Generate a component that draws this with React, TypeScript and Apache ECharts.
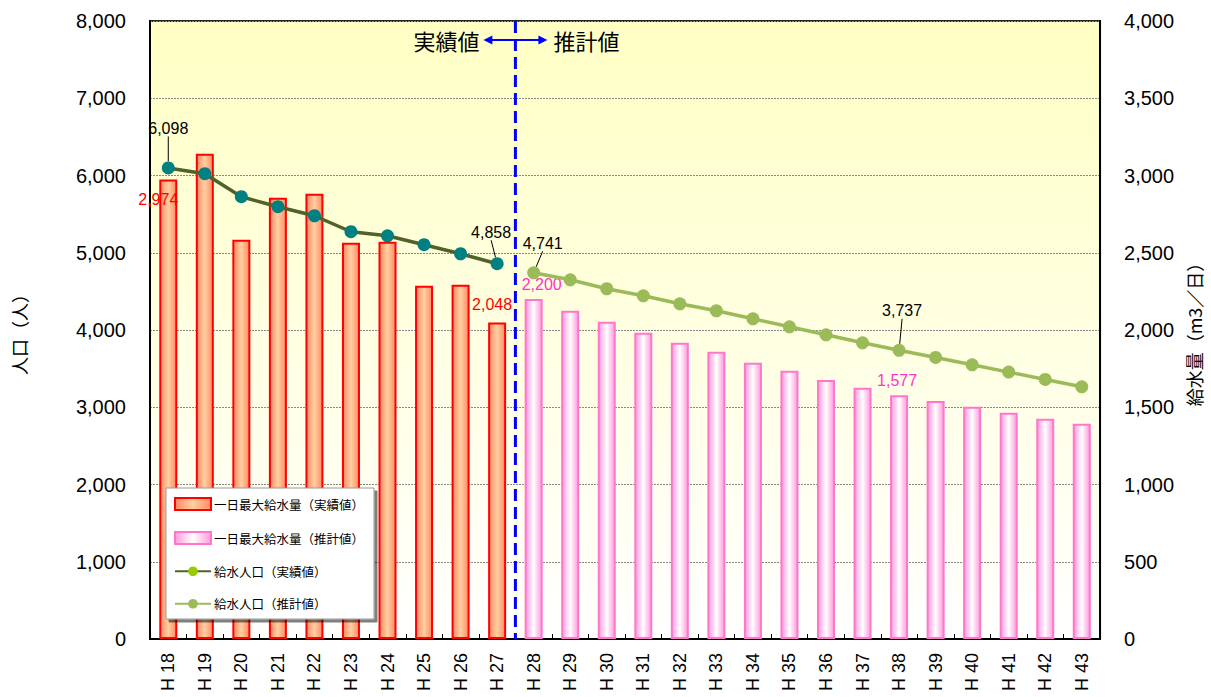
import React, { useEffect, useRef } from "react";
import * as echarts from "echarts";

const categories = ["H 18","H 19","H 20","H 21","H 22","H 23","H 24","H 25","H 26","H 27","H 28","H 29","H 30","H 31","H 32","H 33","H 34","H 35","H 36","H 37","H 38","H 39","H 40","H 41","H 42","H 43"];
// 一日最大給水量 (m3/日)
const supplyActual = [2974, 3140, 2584, 2856, 2882, 2565, 2571, 2286, 2293, 2048];
const supplyProjected = [2200, 2124, 2053, 1982, 1917, 1859, 1788, 1736, 1677, 1626, 1577, 1541, 1503, 1464, 1425, 1393];
// 給水人口 (人)
const popActual = [6098, 6023, 5725, 5596, 5479, 5272, 5220, 5104, 4987, 4858];
const popProjected = [4741, 4650, 4534, 4443, 4339, 4249, 4145, 4041, 3938, 3834, 3737, 3645, 3550, 3455, 3360, 3265];
const leftTicks = { min: 0, max: 8000, interval: 1000 };
const rightTicks = { min: 0, max: 4000, interval: 500 };

const nActual = supplyActual.length;
const FONT = "'Liberation Sans', 'Noto Sans CJK JP', sans-serif";
const JP = "'Noto Sans CJK JP', sans-serif";

export default function App() {
  const ref = useRef<HTMLDivElement>(null);
  useEffect(() => {
    if (!ref.current) return;
    const chart = echarts.init(ref.current, null, { renderer: "svg" });

    const redFill = new echarts.graphic.LinearGradient(0, 0, 1, 0, [
      { offset: 0, color: "#FF8866" },
      { offset: 0.5, color: "#FFD0A0" },
      { offset: 1, color: "#FF8866" },
    ]);
    const pinkFill = new echarts.graphic.LinearGradient(0, 0, 1, 0, [
      { offset: 0, color: "#FF99DD" },
      { offset: 0.5, color: "#FFFFFF" },
      { offset: 1, color: "#FF99DD" },
    ]);

    const barActualData = categories.map((_, i) => {
      if (i >= nActual) return null;
      const v = supplyActual[i];
      if (i === 0) {
        return { value: v, label: { show: true, position: "insideTop", offset: [-10, 7], color: "#FF0000" } };
      }
      if (i === nActual - 1) {
        return { value: v, label: { show: true, position: "top", offset: [-5, -5], color: "#FF0000" } };
      }
      return v;
    });
    const barProjData = categories.map((_, i) => {
      if (i < nActual) return null;
      const j = i - nActual;
      const v = supplyProjected[j];
      if (j === 0 || j === 10) {
        return { value: v, label: { show: true, position: "top", offset: [j === 0 ? 8 : -2, -2], color: "#FF33CC" } };
      }
      return v;
    });
    const lineActualData = categories.map((_, i) => {
      if (i >= nActual) return null;
      const v = popActual[i];
      if (i === 0 || i === nActual - 1) return { value: v, label: { show: true } };
      return v;
    });
    const lineProjData = categories.map((_, i) => {
      if (i < nActual) return null;
      const j = i - nActual;
      const v = popProjected[j];
      if (j === 0 || j === 10) return { value: v, label: { show: true } };
      return v;
    });

    const lineLabel = {
      show: false,
      position: "top",
      color: "#000",
      fontSize: 16,
      fontFamily: FONT,
      formatter: (p: any) => Number(p.value).toLocaleString("en-US"),
    };

    const option: any = {
      animation: false,
      textStyle: { fontFamily: FONT },
      grid: {
        left: 150,
        right: 106,
        top: 21,
        bottom: 58,
        show: true,
        borderColor: "#222",
        borderWidth: 2,
        backgroundColor: new echarts.graphic.LinearGradient(0, 0, 0, 1, [
          { offset: 0, color: "#FFFFC4" },
          { offset: 1, color: "#FFFFFF" },
        ]),
      },
      legend: {
        orient: "vertical",
        left: 166,
        top: 488,
        padding: [9, 10, 9, 8],
        itemGap: 20,
        itemWidth: 36,
        itemHeight: 12,
        backgroundColor: "#FFFFFF",
        borderColor: "#999",
        borderWidth: 1,
        shadowColor: "rgba(0,0,0,0.5)",
        shadowBlur: 0,
        shadowOffsetX: 3,
        shadowOffsetY: 3,
        textStyle: { fontSize: 12.5, fontFamily: JP, color: "#000", padding: [0, 0, 0, -2] },
        data: [
          { name: "一日最大給水量（実績値）", icon: "rect" },
          { name: "一日最大給水量（推計値）", icon: "rect" },
          { name: "給水人口（実績値）", itemStyle: { color: "#99CC00" } },
          { name: "給水人口（推計値）" },
        ],
      },
      xAxis: {
        type: "category",
        data: categories,
        axisLine: { lineStyle: { color: "#000", width: 2 } },
        axisTick: { show: true, inside: true, length: 5, lineStyle: { color: "#000" } },
        axisLabel: { rotate: 90, fontSize: 18, color: "#000", margin: 14, fontFamily: FONT },
      },
      yAxis: [
        {
          type: "value",
          ...leftTicks,
          name: "人口（人）",
          nameLocation: "middle",
          nameRotate: 90,
          nameGap: 122,
          nameTextStyle: { fontSize: 18, color: "#000", fontFamily: JP },
          axisLine: { show: true, lineStyle: { color: "#000", width: 2 } },
          axisTick: { show: false },
          axisLabel: { fontSize: 20, color: "#000", margin: 24, formatter: (v: number) => v.toLocaleString("en-US") },
          splitLine: { show: true, lineStyle: { color: "#888", type: [2, 1], width: 1 } },
        },
        {
          type: "value",
          ...rightTicks,
          name: "給水量（m3／日）",
          nameLocation: "middle",
          nameRotate: 90,
          nameGap: 82,
          nameTextStyle: { fontSize: 18, color: "#000", fontFamily: JP },
          axisLine: { show: true, lineStyle: { color: "#000", width: 2 } },
          axisTick: { show: false },
          axisLabel: { fontSize: 20, color: "#000", margin: 24, formatter: (v: number) => v.toLocaleString("en-US") },
          splitLine: { show: false },
        },
      ],
      series: [
        {
          name: "一日最大給水量（実績値）",
          type: "bar",
          yAxisIndex: 1,
          barWidth: 18,
          barGap: "-100%",
          data: barActualData,
          itemStyle: { color: redFill, borderColor: "#FF0000", borderWidth: 2 },
          label: {
            show: false,
            fontSize: 16,
            fontFamily: FONT,
            formatter: (p: any) => Number(p.value).toLocaleString("en-US"),
          },
          z: 2,
        },
        {
          name: "一日最大給水量（推計値）",
          type: "bar",
          yAxisIndex: 1,
          barWidth: 18,
          barGap: "-100%",
          data: barProjData,
          itemStyle: { color: pinkFill, borderColor: "#FF77CC", borderWidth: 2 },
          label: {
            show: false,
            fontSize: 16,
            fontFamily: FONT,
            formatter: (p: any) => Number(p.value).toLocaleString("en-US"),
          },
          z: 2,
        },
        {
          name: "給水人口（実績値）",
          type: "line",
          yAxisIndex: 0,
          data: lineActualData,
          symbol: "circle",
          symbolSize: 13,
          lineStyle: { color: "#4F6228", width: 3.5 },
          itemStyle: { color: "#008080" },
          label: lineLabel,
          labelLine: { show: true, lineStyle: { color: "#000", width: 1 } },
          labelLayout: (p: any) => {
            if (p.dataIndex === 0) return { dx: 0, dy: -20 };
            if (p.dataIndex === nActual - 1) return { dx: -6, dy: -12 };
            return {};
          },
          z: 5,
        },
        {
          name: "給水人口（推計値）",
          type: "line",
          yAxisIndex: 0,
          data: lineProjData,
          symbol: "circle",
          symbolSize: 13,
          lineStyle: { color: "#9BBB59", width: 3.5 },
          itemStyle: { color: "#9BBB59" },
          label: lineLabel,
          labelLine: { show: true, lineStyle: { color: "#000", width: 1 } },
          labelLayout: (p: any) => {
            if (p.dataIndex === nActual) return { dx: 9, dy: -10 };
            if (p.dataIndex === nActual + 10) return { dx: 3, dy: -20 };
            return {};
          },
          z: 5,
        },
      ],
    };
    chart.setOption(option);

    // Divider between actual and projected values, placed through the category scale
    const xA = chart.convertToPixel({ xAxisIndex: 0 }, categories[nActual - 1]) as number;
    const xB = chart.convertToPixel({ xAxisIndex: 0 }, categories[nActual]) as number;
    const xMid = (xA + xB) / 2;
    const yTop = chart.convertToPixel({ yAxisIndex: 0 }, leftTicks.max) as number;
    const yBot = chart.convertToPixel({ yAxisIndex: 0 }, leftTicks.min) as number;
    const arrowY = yTop + 19;
    chart.setOption({
      graphic: [
        {
          type: "line",
          shape: { x1: xMid, y1: yTop, x2: xMid, y2: yBot },
          style: { stroke: "#0000FF", lineWidth: 3, lineDash: [12, 6] },
          z: 10,
        },
        {
          type: "line",
          shape: { x1: xMid - 26, y1: arrowY, x2: xMid + 26, y2: arrowY },
          style: { stroke: "#0000FF", lineWidth: 2 },
          z: 10,
        },
        {
          type: "polygon",
          shape: { points: [[xMid - 32, arrowY], [xMid - 23, arrowY - 4.5], [xMid - 23, arrowY + 4.5]] },
          style: { fill: "#0000FF" },
          z: 10,
        },
        {
          type: "polygon",
          shape: { points: [[xMid + 32, arrowY], [xMid + 23, arrowY - 4.5], [xMid + 23, arrowY + 4.5]] },
          style: { fill: "#0000FF" },
          z: 10,
        },
        {
          type: "text",
          x: xMid - 36,
          y: arrowY,
          style: { text: "実績値", fill: "#000", font: `22px ${JP}`, align: "right", verticalAlign: "middle" },
          z: 10,
        },
        {
          type: "text",
          x: xMid + 38,
          y: arrowY,
          style: { text: "推計値", fill: "#000", font: `22px ${JP}`, align: "left", verticalAlign: "middle" },
          z: 10,
        },
      ],
    });

    return () => chart.dispose();
  }, []);
  return <div ref={ref} style={{ position: "absolute", left: 0, top: 0, width: 1211, height: 697 }} />;
}
